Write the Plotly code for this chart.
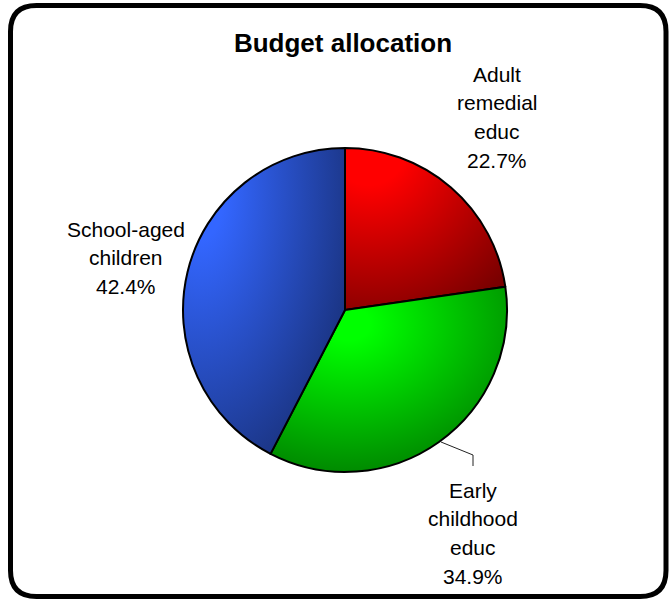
import json
import plotly.graph_objects as go

# Budget shares (percent)
categories = ["Adult remedial educ", "Early childhood educ", "School-aged children"]
shares = [22.7, 34.9, 42.4]

# Label text broken over lines, one entry per category
label_lines = [["Adult", "remedial", "educ"], ["Early", "childhood", "educ"], ["School-aged", "children"]]

# Bright / deep tones used for each slice's corner gradient
bright = ["#FF0000", "#00FF00", "#3366FF"]
deep = ["#7A0000", "#007A00", "#1A3380"]

W, H = 671, 602


def px(x):
    return x / W


def py(y):
    return 1 - y / H


fig = go.Figure()

# pie: centre (345, 310), radius 162 px
cx, cy, r = 345, 310, 162
fig.add_trace(go.Pie(
    labels=categories,
    values=shares,
    sort=False,
    direction="clockwise",
    rotation=0,
    textinfo="none",
    hoverinfo="label+percent",
    marker=dict(colors=bright, line=dict(color="black", width=2)),
    domain=dict(x=[px(cx - r), px(cx + r)], y=[py(cy + r), py(cy - r)]),
    showlegend=False,
))

total = sum(shares)
pct = [f"{100 * v / total:.1f}%" for v in shares]

# label blocks: centre x and first-line y in pixels, fixed line pitch
label_pos = [(497, 74), (473, 490), (126, 229)]
pitch = 28.8
font = dict(family="Liberation Sans, Arial, sans-serif", size=21, color="black")
for lines, p, (lx, ly) in zip(label_lines, pct, label_pos):
    for k, t in enumerate(lines + [p]):
        fig.add_annotation(
            x=px(lx), y=py(ly + k * pitch), xref="paper", yref="paper",
            text=t, showarrow=False, xanchor="center", yanchor="middle",
            font=font,
        )

# leader line for the early-childhood label
fig.add_shape(
    type="path", xref="paper", yref="paper",
    path=f"M {px(441)} {py(442)} L {px(473)} {py(455)} L {px(473)} {py(466)}",
    line=dict(color="#222222", width=1),
)

# rounded frame
x0, x1, y0, y1, rad = 10.5, 666, 5.5, 596.5, 26
frame = (
    f"M {px(x0 + rad)} {py(y0)} L {px(x1 - rad)} {py(y0)} "
    f"Q {px(x1)} {py(y0)} {px(x1)} {py(y0 + rad)} "
    f"L {px(x1)} {py(y1 - rad)} Q {px(x1)} {py(y1)} {px(x1 - rad)} {py(y1)} "
    f"L {px(x0 + rad)} {py(y1)} Q {px(x0)} {py(y1)} {px(x0)} {py(y1 - rad)} "
    f"L {px(x0)} {py(y0 + rad)} Q {px(x0)} {py(y0)} {px(x0 + rad)} {py(y0)} Z"
)
fig.add_shape(type="path", xref="paper", yref="paper", path=frame,
              line=dict(color="black", width=5), layer="above")

fig.update_layout(
    width=W, height=H,
    margin=dict(l=0, r=0, t=0, b=0),
    paper_bgcolor="white", plot_bgcolor="white",
    title=dict(
        text="<b>Budget allocation</b>", x=px(343), y=py(43),
        xanchor="center", yanchor="middle",
        font=dict(family="Liberation Sans, Arial, sans-serif", size=26, color="black"),
    ),
)

# corner gradients applied to the pie's slice paths after rendering
specs = [
    {"cx": 0.15, "cy": 0.0, "r": 1.15, "stops": [[0, bright[0]], [0.2, bright[0]], [1, deep[0]]]},
    {"cx": 0.33, "cy": 0.2, "r": 0.9, "stops": [[0, bright[1]], [0.1, bright[1]], [1, deep[1]]]},
    {"cx": 0.1, "cy": 0.15, "r": 1.0, "stops": [[0, bright[2]], [0.15, bright[2]], [1, deep[2]]]},
]

js = """
(function(){
  var gd = document.getElementById('{plot_id}');
  var specs = __SPECS__;
  var ns = 'http://www.w3.org/2000/svg';
  function shade(){
    var svg = gd.querySelector('svg.main-svg');
    if (!svg) return;
    var defs = svg.querySelector('defs');
    if (!defs) { defs = document.createElementNS(ns, 'defs'); svg.insertBefore(defs, svg.firstChild); }
    specs.forEach(function(s, i){
      var id = 'slice-shade-' + i;
      if (document.getElementById(id)) return;
      var g = document.createElementNS(ns, 'radialGradient');
      g.setAttribute('id', id);
      g.setAttribute('cx', s.cx); g.setAttribute('cy', s.cy); g.setAttribute('r', s.r);
      s.stops.forEach(function(st){
        var e = document.createElementNS(ns, 'stop');
        e.setAttribute('offset', st[0]); e.setAttribute('stop-color', st[1]);
        g.appendChild(e);
      });
      defs.appendChild(g);
    });
    gd.querySelectorAll('g.slice').forEach(function(sl, k){
      var d = sl.__data__;
      var i = (d && d.i !== undefined) ? d.i : k;
      var p = sl.querySelector('path.surface');
      if (p) p.style.fill = 'url(#slice-shade-' + i + ')';
    });
  }
  shade();
  gd.on('plotly_afterplot', shade);
})();
""".replace("__SPECS__", json.dumps(specs))

fig.write_html("out.html", post_script=js, config={"displayModeBar": False})
